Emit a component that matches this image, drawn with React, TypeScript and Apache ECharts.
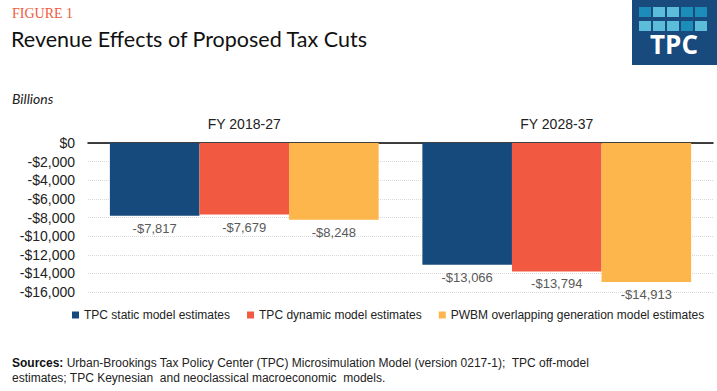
import React, { useEffect, useRef } from "react";
import * as echarts from "echarts";

const categories = ["FY 2018-27", "FY 2028-37"];
const staticVals = [-7817, -13066];
const dynamicVals = [-7679, -13794];
const pwbmVals = [-8248, -14913];
const seriesNames = [
  "TPC static model estimates",
  "TPC dynamic model estimates",
  "PWBM overlapping generation model estimates",
];
const colors = ["#174A7C", "#F15A40", "#FDB64B"];

const ARIAL = "'Liberation Sans', Arial, sans-serif";
const SANS = "Lato, 'Noto Sans', sans-serif";

const fmt = (v: number) =>
  (v < 0 ? "-$" : "$") + Math.abs(v).toLocaleString("en-US");

export default function App() {
  const ref = useRef<HTMLDivElement>(null);
  useEffect(() => {
    document.body.style.margin = "0";
    if (!ref.current) return;
    const chart = echarts.init(ref.current, undefined, { renderer: "svg" });
    const logoSquares: any[] = [];
    const sqColors = [
      ["#1B8DB8", "#5CBDDA", "#5CBDDA", "#1B8DB8", "#1B8DB8"],
      ["#5CBDDA", "#5CBDDA", "#5CBDDA", "#1B8DB8", "#5CBDDA"],
    ];
    for (let r = 0; r < 2; r++) {
      for (let c = 0; c < 5; c++) {
        logoSquares.push({
          type: "rect",
          shape: { x: 639 + c * 14, y: 7 + r * 14, width: 12, height: 10 },
          style: { fill: sqColors[r][c] },
        });
      }
    }
    const mk = (name: string, data: number[], i: number) => ({
      name,
      type: "bar",
      data,
      itemStyle: { color: colors[i] },
      barGap: "0%",
      barCategoryGap: "14%",
      label: {
        show: true,
        position: "bottom",
        distance: 6,
        color: "#595959",
        fontFamily: ARIAL,
        fontSize: 13,
        formatter: (p: any) => fmt(p.value),
      },
    });
    chart.setOption({
      animation: false,
      backgroundColor: "#fff",
      grid: { left: 88, right: 4, top: 143, bottom: 99, containLabel: false },
      legend: {
        top: 304,
        left: 67,
        right: 0,
        itemWidth: 7,
        itemHeight: 7,
        itemGap: 17,
        icon: "rect",
        textStyle: { fontFamily: ARIAL, fontSize: 12, color: "#222" },
        data: seriesNames,
      },
      xAxis: {
        type: "category",
        data: categories,
        position: "top",
        axisLine: { show: true, lineStyle: { color: "#000", width: 1.5 } },
        axisTick: { show: false },
        axisLabel: {
          margin: 12,
          color: "#222",
          fontFamily: ARIAL,
          fontSize: 14,
        },
      },
      yAxis: {
        type: "value",
        min: -16000,
        max: 0,
        interval: 2000,
        axisLine: { show: false },
        axisTick: { show: false },
        splitLine: { lineStyle: { color: "#d9d9d9", type: "dotted" } },
        axisLabel: {
          margin: 13,
          color: "#222",
          fontFamily: ARIAL,
          fontSize: 14,
          formatter: (v: number) => fmt(v),
        },
      },
      series: [
        mk(seriesNames[0], staticVals, 0),
        mk(seriesNames[1], dynamicVals, 1),
        mk(seriesNames[2], pwbmVals, 2),
      ],
      graphic: [
        {
          type: "text",
          left: 12,
          top: 6,
          style: {
            text: "FIGURE 1",
            fill: "#F15A40",
            font: "14px 'Liberation Serif', 'DejaVu Serif', serif",
          },
        },
        {
          type: "text",
          left: 11,
          top: 28,
          style: {
            text: "Revenue Effects of Proposed Tax Cuts",
            fill: "#111",
            font: "21.5px " + SANS,
          },
        },
        {
          type: "text",
          left: 12,
          top: 91,
          style: {
            text: "Billions",
            fill: "#222",
            font: "italic 14px " + SANS,
          },
        },
        {
          type: "rect",
          shape: { x: 632, y: 0, width: 85, height: 65 },
          style: { fill: "#184A7D" },
        },
        ...logoSquares,
        {
          type: "text",
          x: 674,
          y: 44,
          style: {
            text: "TPC",
            fill: "#fff",
            font: "bold 26px 'Open Sans', sans-serif",
            textAlign: "center",
            textVerticalAlign: "middle",
          },
        },
        {
          type: "text",
          left: 12,
          top: 355,
          style: {
            text:
              "{b|Sources:} Urban-Brookings Tax Policy Center (TPC) Microsimulation Model (version 0217-1);  TPC off-model\nestimates; TPC Keynesian  and neoclassical macroeconomic  models.",
            fill: "#222",
            font: "12px " + ARIAL,
            lineHeight: 15,
            rich: {
              b: { fontWeight: "bold", fontFamily: ARIAL, fontSize: 12, fill: "#111" },
            },
          } as any,
        },
      ],
    });
    return () => chart.dispose();
  }, []);
  return <div ref={ref} style={{ width: 717, height: 391 }} />;
}
